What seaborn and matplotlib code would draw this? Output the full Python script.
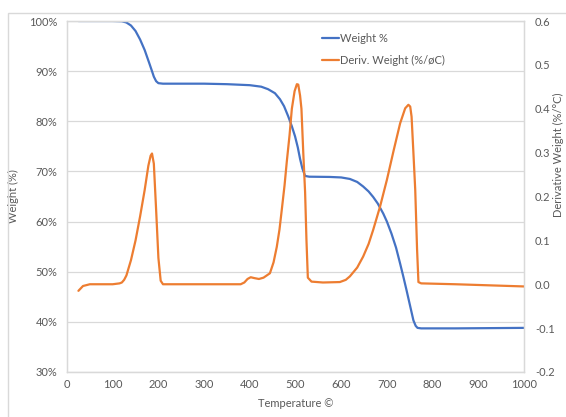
import matplotlib
matplotlib.use("Agg")
import matplotlib.pyplot as plt
import seaborn as sns
import pandas as pd
from matplotlib.patches import Rectangle
from matplotlib.ticker import FuncFormatter

# ---- data ----
temp_w = [25, 100, 120, 130, 140, 150, 160, 170, 180, 186,
          190, 195, 200, 210, 300, 350, 400, 425, 440, 455,
          466, 475, 484, 492, 499, 505, 510, 515, 521, 530,
          575, 600, 619, 635, 648, 660, 670, 680, 692, 700,
          710, 720, 729, 736, 743, 750, 758, 763, 767, 775,
          850, 1000]
weight = [100, 100, 99.95, 99.7, 99.1, 98.0, 96.3, 94.2, 91.6, 90.0,
          88.9, 88.0, 87.6, 87.5, 87.5, 87.4, 87.2, 86.9, 86.4, 85.6,
          84.4, 83.0, 81.0, 79.0, 77.0, 74.8, 72.5, 70.6, 69.1, 68.95,
          68.9, 68.8, 68.5, 67.9, 67.0, 66.0, 64.9, 63.6, 61.6, 60.0,
          57.6, 54.8, 51.6, 49.0, 46.3, 43.5, 40.3, 39.2, 38.8, 38.7,
          38.7, 38.8]

temp_d = [25, 35, 50, 100, 115, 120, 125, 130, 140, 150,
          160, 170, 178, 183, 186, 190, 195, 200, 205, 210,
          300, 380, 388, 395, 402, 410, 420, 430, 444, 452,
          459, 465, 470, 476, 481, 487, 492, 498, 503, 506,
          510, 513, 517, 521, 524, 527, 535, 560, 597, 610,
          619, 635, 648, 660, 670, 685, 700, 715, 729, 740,
          747, 751, 754, 758, 762, 766, 769, 775, 850, 1000]
deriv = [-0.015, -0.004, 0.0, 0.0, 0.002, 0.004, 0.01, 0.02, 0.055, 0.1,
         0.155, 0.215, 0.27, 0.293, 0.298, 0.275, 0.17, 0.06, 0.008, 0.0,
         0.0, 0.0, 0.004, 0.012, 0.016, 0.014, 0.012, 0.015, 0.025, 0.05,
         0.085, 0.125, 0.17, 0.225, 0.28, 0.34, 0.40, 0.44, 0.456, 0.455,
         0.43, 0.40, 0.30, 0.21, 0.10, 0.015, 0.006, 0.004, 0.005, 0.01,
         0.018, 0.038, 0.063, 0.092, 0.124, 0.177, 0.238, 0.306, 0.367, 0.401,
         0.409, 0.405, 0.382, 0.30, 0.215, 0.08, 0.005, 0.002, 0.0, -0.005]

x_ticks = [0, 100, 200, 300, 400, 500, 600, 700, 800, 900, 1000]
y_ticks = [30, 40, 50, 60, 70, 80, 90, 100]
y2_ticks = [-0.2, -0.1, 0.0, 0.1, 0.2, 0.3, 0.4, 0.5, 0.6]

label_w = "Weight %"
label_d = "Deriv. Weight (%/øC)"

df_w = pd.DataFrame({"T": temp_w, "W": weight})
df_d = pd.DataFrame({"T": temp_d, "D": deriv})

# ---- style ----
sns.set_theme(style="white")
plt.rcParams["font.family"] = ["Lato", "DejaVu Sans"]
TXT = "#595959"
GRID = "#D9D9D9"
BLUE = "#4472C4"
ORANGE = "#ED7D31"
FS = 8

fig = plt.figure(figsize=(5.66, 4.17), dpi=100)
ax = fig.add_axes([67/566, 1-372/417, (524-67)/566, (372-21)/417])
ax2 = ax.twinx()

sns.lineplot(data=df_w, x="T", y="W", ax=ax, color=BLUE, linewidth=1.6, label=label_w, legend=False)
sns.lineplot(data=df_d, x="T", y="D", ax=ax2, color=ORANGE, linewidth=1.6, label=label_d, legend=False)

ax.set_xlim(0, 1000)
ax.set_ylim(30, 100)
ax2.set_ylim(-0.2, 0.6)
ax.set_xticks(x_ticks)
ax.set_yticks(y_ticks)
ax2.set_yticks(y2_ticks)
ax.yaxis.set_major_formatter(FuncFormatter(lambda v, p: f"{int(round(v))}%"))
ax2.yaxis.set_major_formatter(FuncFormatter(lambda v, p: f"{v:.1f}"))

ax.grid(axis="y", color=GRID, linewidth=0.9)
ax.set_axisbelow(True)
for a in (ax, ax2):
    for s in a.spines.values():
        s.set_color(GRID)
        s.set_linewidth(0.9)
    a.tick_params(length=0, labelsize=FS, colors=TXT)
ax.tick_params(axis="y", pad=7)
ax.tick_params(axis="x", pad=5)
ax2.tick_params(axis="y", pad=8)

ax.set_xlabel("Temperature ©", fontsize=FS, color=TXT, labelpad=6)
ax.set_ylabel("Weight (%)", fontsize=FS, color=TXT, labelpad=7)
ax2.set_ylabel("")
fig.text(558/566, 1-155/417, "Derivative Weight (%/°C)", rotation=90,
         ha="center", va="center", fontsize=FS, color=TXT)

h1, l1 = ax.get_legend_handles_labels()
h2, l2 = ax2.get_legend_handles_labels()
leg = ax2.legend(h1 + h2, l1 + l2, loc="upper left", frameon=False,
                 bbox_to_anchor=(322/566, 1-33/417), bbox_transform=fig.transFigure,
                 borderpad=0, borderaxespad=0, handlelength=1.5, handletextpad=0.15,
                 labelspacing=0.95, fontsize=FS)
for t in leg.get_texts():
    t.set_color(TXT)

fig.patches.append(Rectangle((8/566, -0.1), 1.2, 1.1 - 13/417, fill=False,
                             edgecolor=GRID, linewidth=1, transform=fig.transFigure, figure=fig))

fig.savefig("out.png", dpi=100)
